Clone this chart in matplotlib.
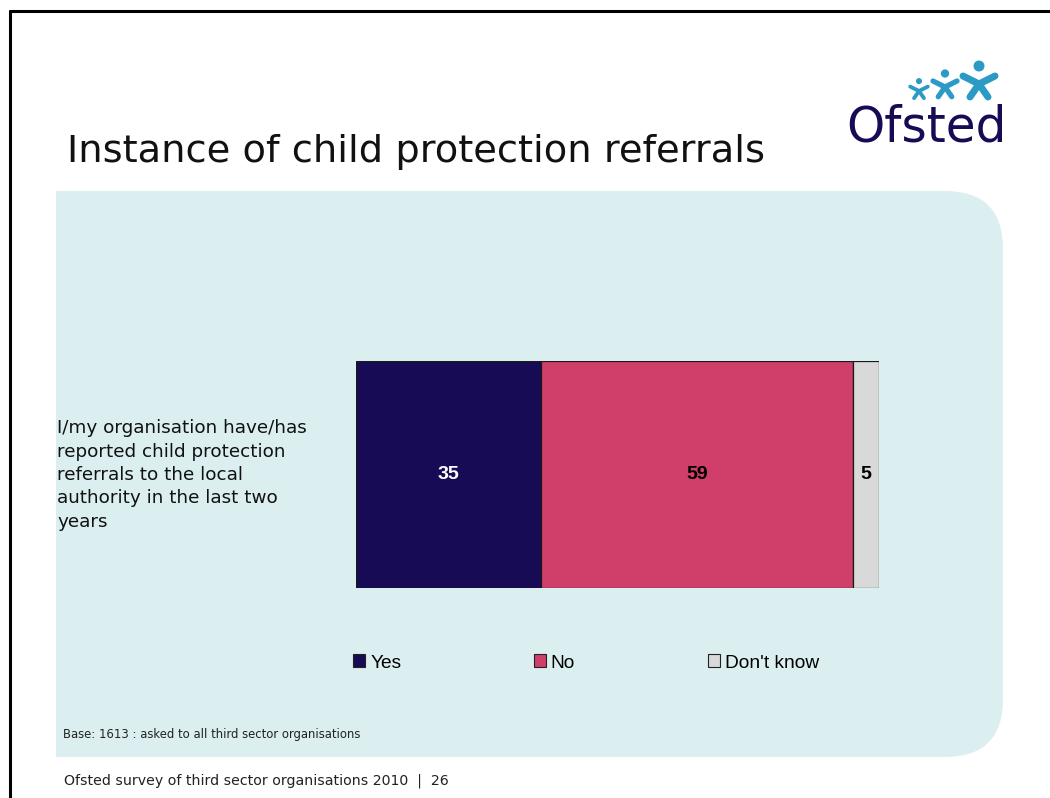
import numpy as np
import matplotlib.pyplot as plt
from matplotlib.patches import Rectangle, FancyBboxPatch, Patch

#### data ######################################################################

question = ('I/my organisation have/has\nreported child protection\n'
            'referrals to the local\nauthority in the last two\nyears')
answers = ['Yes', 'No', "Don't know"]
shares = [35, 59, 5]
colours = ['#170B55', '#D03E6A', '#D9D9D9']
labelColours = ['white', 'black', 'black']

title = 'Instance of child protection referrals'
baseNote = 'Base: 1613 : asked to all third sector organisations'
footer = 'Ofsted survey of third sector organisations 2010  |  26'

W, H = 1050, 798
panelColour = '#DBEEF0'
navy = '#170B55'
logoBlue = '#2B9AC4'

#### slide background ##########################################################

fig = plt.figure(figsize=(W/100, H/100), dpi=100)
bg = fig.add_axes([0, 0, 1, 1], zorder=0)
bg.set_xlim(0, W)
bg.set_ylim(H, 0)
bg.axis('off')

# slide frame (top and left edges only)
bg.plot([8.5, W], [11, 11], c='k', lw=2.2, solid_capstyle='butt')
bg.plot([9.5, 9.5], [10, H], c='k', lw=2.2, solid_capstyle='butt')

# panel: square on the left, rounded on the right
bg.add_patch(Rectangle((56, 191), 850, 566, fc=panelColour, ec='none'))
bg.add_patch(FancyBboxPatch((800, 191), 203, 566,
                            boxstyle='round,pad=0,rounding_size=58',
                            fc=panelColour, ec='none'))

bg.text(67, 162, title, fontsize=27.6, color='#111111', va='baseline')
bg.text(63, 738, baseNote, fontsize=8.4, color='#222222', va='baseline')
bg.text(64, 784, footer, fontsize=10.2, color='#222222', va='baseline')

# logo
bg.text(846, 141, 'Ofsted', fontsize=35, color=navy, va='baseline')

def person(cx, cy, s):
    lw = 7*s*0.72
    kw = dict(c=logoBlue, lw=lw, solid_capstyle='round', solid_joinstyle='round')
    bg.plot([cx-16*s, cx, cx+16*s], [cy-8*s, cy, cy-8*s], **kw)
    bg.plot([cx-9*s, cx, cx+9*s], [cy+13*s, cy, cy+13*s], **kw)
    bg.add_patch(plt.Circle((cx, cy-18*s), 5.5*s, fc=logoBlue, ec='none'))

person(919, 91, 0.55)
person(945, 87, 0.75)
person(979, 84, 1.0)

#### stacked bar ###############################################################

ax = fig.add_axes([356/W, 1-588/H, 523/W, 227/H], zorder=2)
ax.patch.set_alpha(0)
left = 0
for a, v, c, lc in zip(answers, shares, colours, labelColours):
    ax.barh(0, v, left=left, height=1, color=c, edgecolor='#1a1a1a', lw=0.9)
    ax.text(left+v/2, 0, str(v), ha='center', va='center', color=lc,
            fontsize=14, fontweight='bold', family='Liberation Sans')
    left += v
ax.set_xlim(0, sum(shares))
ax.set_ylim(-0.5, 0.5)
ax.axis('off')

fig.text(57/W, 1-475/H, question, fontsize=13.2, color='#111111',
         ha='left', va='center', linespacing=1.38)

handles = [Patch(fc=c, ec='#222222', lw=0.8) for c in colours]
fig.legend(handles, answers, loc='center left', ncol=3, frameon=False,
           bbox_to_anchor=(353/W, 1-663/H), borderaxespad=0, borderpad=0,
           prop={'family': 'Liberation Sans', 'size': 13.8},
           handlelength=0.63, handleheight=0.63, handletextpad=0.27,
           columnspacing=6.9)

fig.savefig('out.png', dpi=100)
plt.close()
